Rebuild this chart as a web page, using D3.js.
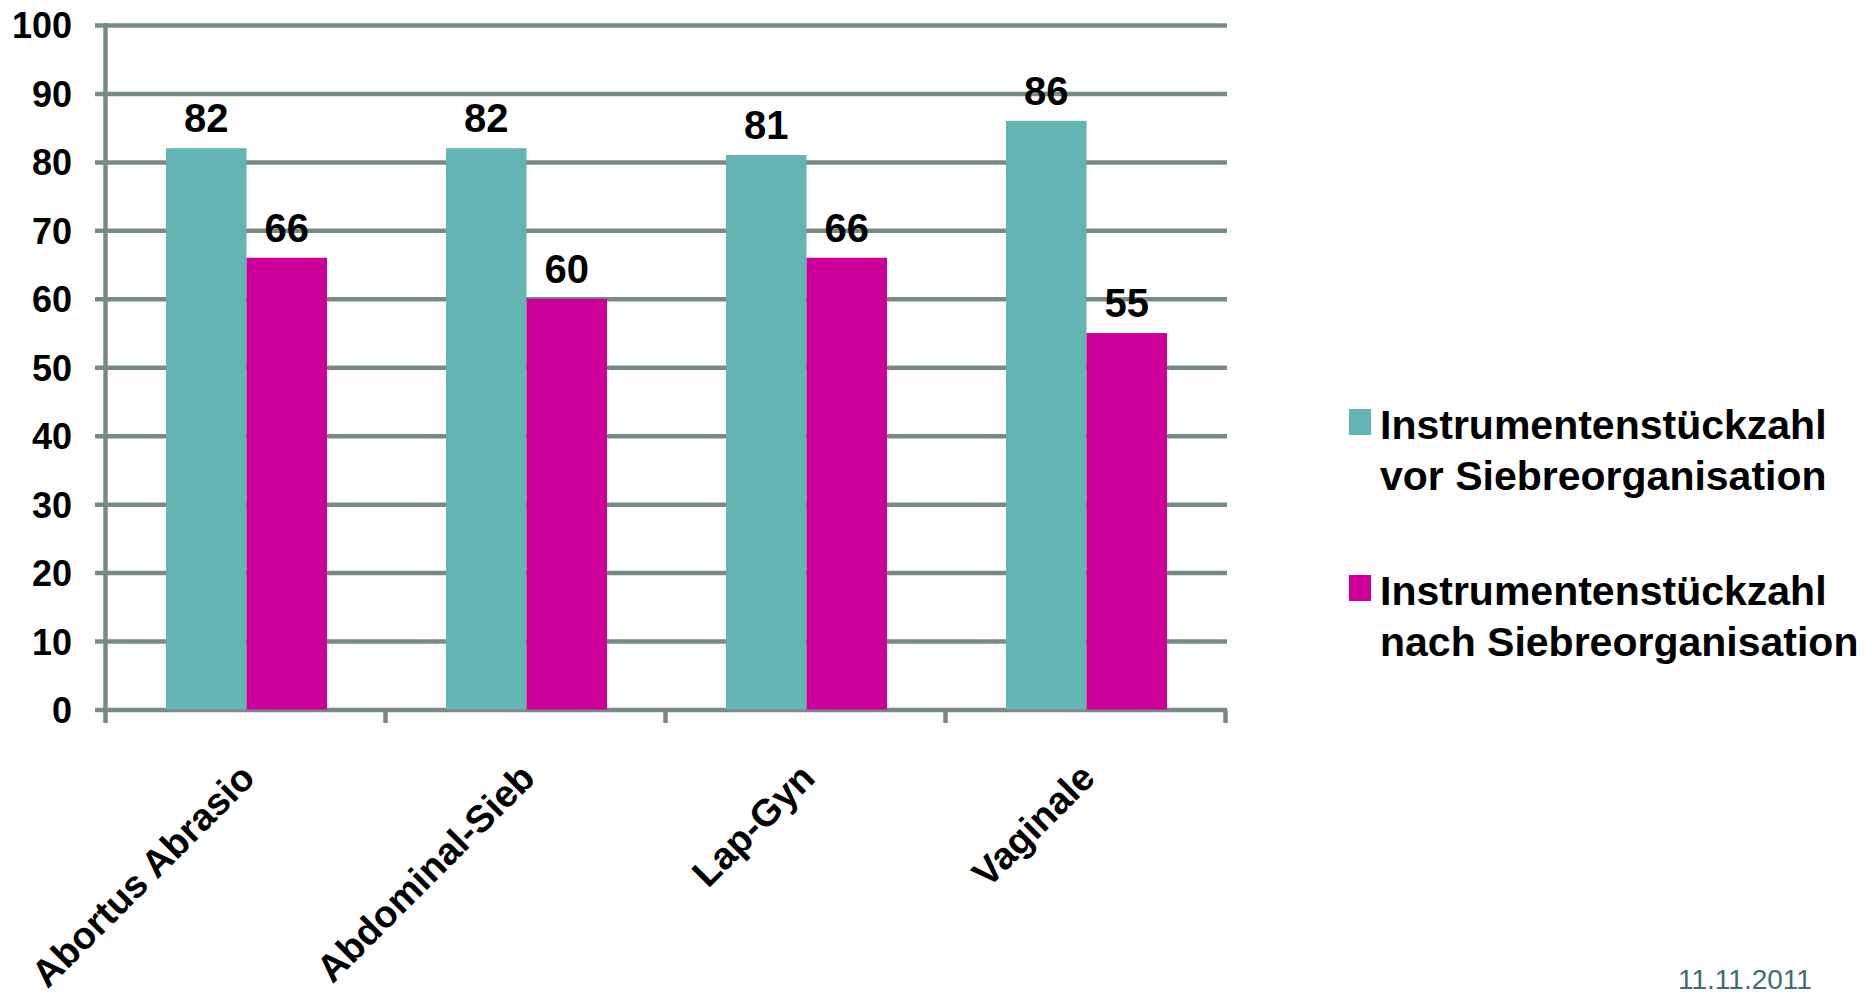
<!DOCTYPE html>
<html>
<head>
  <meta charset="utf-8">
  <script src="https://d3js.org/d3.v7.min.js"></script>
  <style>
    body { margin: 0; background: #fff; }
    svg { font-family: "Liberation Sans", Arial, sans-serif; display: block; }
    .lbl { font-weight: bold; fill: #000; }
  </style>
</head>
<body>
  <svg width="1872" height="996"></svg>

  <script>
    // Data
    const categories = ["Abortus Abrasio", "Abdominal-Sieb", "Lap-Gyn", "Vaginale"];
    const seriesNames = [
      ["Instrumentenstückzahl", "vor Siebreorganisation"],
      ["Instrumentenstückzahl", "nach Siebreorganisation"]
    ];
    const vorValues = [82, 82, 81, 86];
    const nachValues = [66, 60, 66, 55];
    const yTicks = [0, 10, 20, 30, 40, 50, 60, 70, 80, 90, 100];
    const dateLabel = "11.11.2011";

    const colors = ["#64b4b4", "#cc0099"];
    const gridColor = "#788a88";

    const svg = d3.select("svg");

    // Scales
    const x = d3.scaleBand()
      .domain(categories)
      .range([107, 1227])
      .padding(0);

    const xInner = d3.scaleBand()
      .domain([0, 1])
      .range([59, 220])
      .padding(0);

    const y = d3.scaleLinear()
      .domain([0, 100])
      .range([709.5, 25]);

    // Gridlines + y tick labels
    const yAxis = svg.append("g")
      .attr("transform", "translate(95,0)")
      .call(d3.axisLeft(y).tickValues(yTicks).tickSize(-1132).tickPadding(23));

    yAxis.select(".domain").remove();
    yAxis.selectAll("line")
      .attr("stroke", gridColor)
      .attr("stroke-width", 4.5);
    yAxis.selectAll("text")
      .attr("class", "lbl")
      .attr("font-size", 36)
      .attr("font-family", "Liberation Sans, Arial, sans-serif")
      .attr("dy", "0.36em");

    // Vertical axis line
    svg.append("line")
      .attr("x1", 105.5).attr("x2", 105.5)
      .attr("y1", y(100) - 2).attr("y2", 723)
      .attr("stroke", gridColor)
      .attr("stroke-width", 4.5);

    // Category boundary ticks
    const bounds = categories.map(c => x(c)).concat([x.range()[1]]);
    svg.selectAll(".xtick")
      .data(bounds.slice(1))
      .enter()
      .append("line")
      .attr("class", "xtick")
      .attr("x1", d => d - 1.5).attr("x2", d => d - 1.5)
      .attr("y1", y(0)).attr("y2", 723)
      .attr("stroke", gridColor)
      .attr("stroke-width", 4.5);

    // Bars
    const rows = categories.map((c, i) => ({ cat: c, vals: [vorValues[i], nachValues[i]] }));

    const groups = svg.selectAll(".grp")
      .data(rows)
      .enter()
      .append("g")
      .attr("class", "grp")
      .attr("transform", d => "translate(" + x(d.cat) + ",0)");

    groups.selectAll("rect")
      .data(d => d.vals.map((v, s) => ({ v, s })))
      .enter()
      .append("rect")
      .attr("x", d => xInner(d.s))
      .attr("y", d => y(d.v))
      .attr("width", xInner.bandwidth())
      .attr("height", d => y(0) - y(d.v))
      .attr("fill", d => colors[d.s]);

    // Value labels
    groups.selectAll(".val")
      .data(d => d.vals.map((v, s) => ({ v, s })))
      .enter()
      .append("text")
      .attr("class", "lbl val")
      .attr("x", d => xInner(d.s) + xInner.bandwidth() / 2)
      .attr("y", d => y(d.v) - 16)
      .attr("text-anchor", "middle")
      .attr("font-size", 40)
      .text(d => d.v);

    // Category labels, rotated
    svg.selectAll(".cat")
      .data(categories)
      .enter()
      .append("text")
      .attr("class", "lbl cat")
      .attr("font-size", 38)
      .attr("text-anchor", "end")
      .attr("transform", d => "translate(" + (x(d) + x.bandwidth() / 2 + 10) + ",780) rotate(-45)")
      .text(d => d);

    // Legend
    const legend = svg.selectAll(".leg")
      .data(seriesNames)
      .enter()
      .append("g")
      .attr("class", "leg")
      .attr("transform", (d, i) => "translate(1349," + (409 + i * 166) + ")");

    legend.append("rect")
      .attr("width", 22)
      .attr("height", 26)
      .attr("fill", (d, i) => colors[i]);

    legend.append("text")
      .attr("class", "lbl")
      .attr("font-size", 41)
      .attr("x", 31)
      .attr("y", 30)
      .selectAll("tspan")
      .data(d => d)
      .enter()
      .append("tspan")
      .attr("x", 31)
      .attr("dy", (d, i) => i === 0 ? 0 : 51)
      .text(d => d);

    // Date footer
    svg.append("text")
      .attr("x", 1678)
      .attr("y", 989)
      .attr("font-size", 28)
      .attr("fill", "#3e6e6e")
      .text(dateLabel);
  </script>
</body>
</html>
